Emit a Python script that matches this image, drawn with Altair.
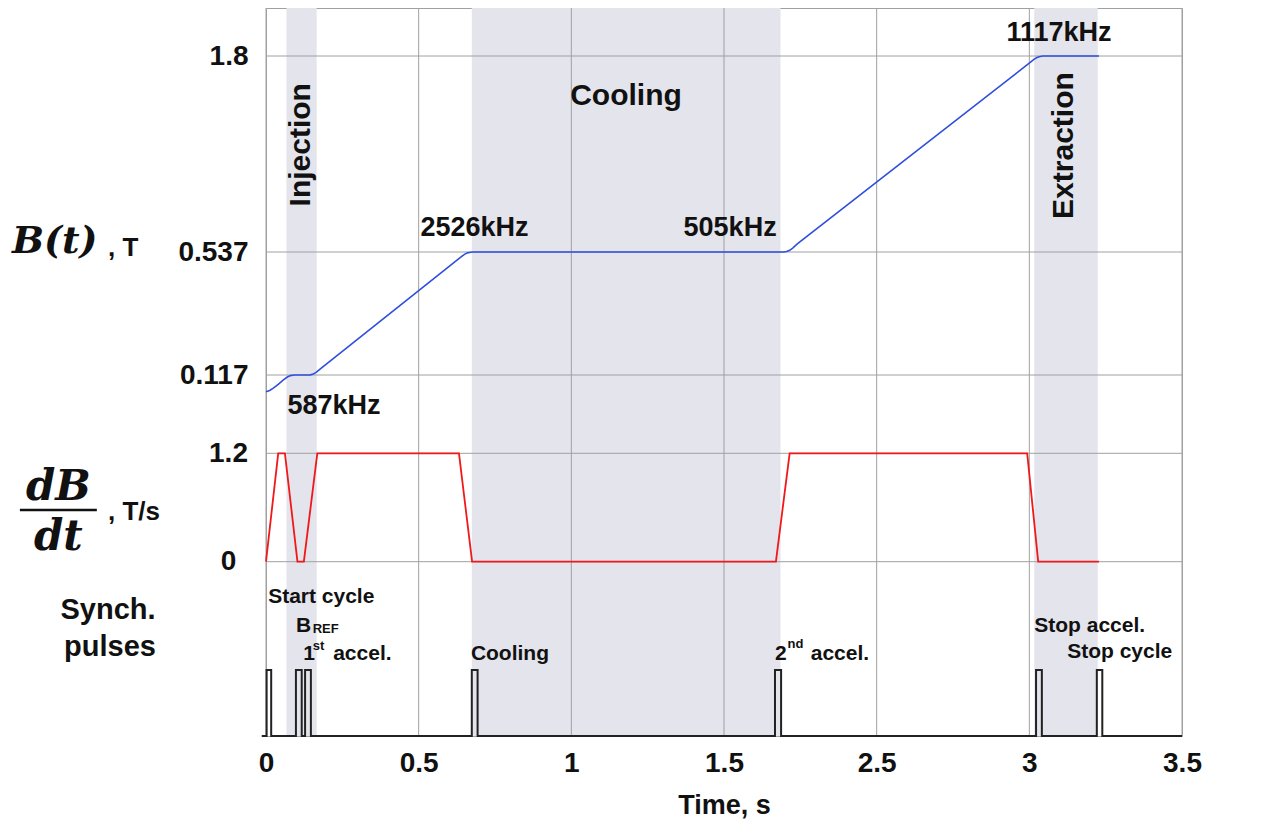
import altair as alt
import pandas as pd

FONT = "Liberation Sans"
SERIF = "DejaVu Serif"
TXT = "#111111"
GRID = "#a0a0a0"
BAND = "#e4e4ec"
BLUE = "#2f4fdc"
RED = "#f01818"
PULSE = "#222222"

# ---------------- axes ----------------
X_TICKS = [0, 0.5, 1, 1.5, 2, 2.5, 3]
X_TICK_LABELS = ["0", "0.5", "1", "1.5", "2.5", "3", "3.5"]
B_TICKS = [0.117, 0.537, 1.8]
D_TICKS = [0, 1.2]

# ---------------- B(t), T ----------------
B_T = [0.000, 0.012, 0.024, 0.040, 0.057, 0.070, 0.080, 0.092, 0.135, 0.145, 0.155,
       0.165, 0.180, 0.640, 0.650, 0.660, 0.670, 0.680, 1.695, 1.705, 1.715, 1.725,
       1.740, 2.505, 2.515, 2.525, 2.535, 2.545, 2.728]
B_VAL = [0.060, 0.064, 0.072, 0.085, 0.100, 0.110, 0.115, 0.117, 0.117, 0.1175, 0.120,
         0.127, 0.140, 0.521, 0.529, 0.534, 0.536, 0.537, 0.537, 0.540, 0.548, 0.562,
         0.589, 1.762, 1.778, 1.790, 1.797, 1.800, 1.800]

# ---------------- dB/dt, T/s ----------------
DBDT_T = [0.000, 0.040, 0.062, 0.103, 0.124, 0.168, 0.632, 0.675, 1.670, 1.715, 2.493, 2.529, 2.728]
DBDT_VAL = [0, 1.2, 1.2, 0, 0, 1.2, 1.2, 0, 0, 1.2, 1.2, 0, 0]

# ---------------- synch pulses ----------------
PULSE_START = [0.002, 0.098, 0.128, 0.674, 1.667, 2.522, 2.721]
PULSE_END = [0.017, 0.117, 0.147, 0.693, 1.687, 2.541, 2.739]
PULSE_LINE_START = -0.014
PULSE_LINE_END = 3.0

# ---------------- phases ----------------
PHASE_NAMES = ["Injection", "Cooling", "Extraction"]
PHASE_START = [0.067, 0.674, 2.516]
PHASE_END = [0.166, 1.685, 2.724]
PHASE_LABEL_T = [0.113, 1.179, 2.614]
PHASE_LABEL_B = [1.228, 1.545, 1.223]

# ---------------- annotations ----------------
FREQ_LABELS = ["587kHz", "2526kHz", "505kHz", "1117kHz"]
FREQ_T = [0.223, 0.683, 1.520, 2.597]
FREQ_B = [0.012, 0.690, 0.690, 1.946]

SYNC_LABELS = ["Start cycle", "B", "1", "accel.", "Cooling", "2", "accel.", "Stop accel.", "Stop cycle"]
SYNC_T = [0.007, 0.098, 0.122, 0.220, 0.671, 1.667, 1.784, 2.516, 2.624]
SYNC_P = [2.011, 1.580, 1.152, 1.152, 1.152, 1.152, 1.152, 1.580, 1.177]

SYNC_SMALL = ["REF", "st", "nd"]
SYNC_SMALL_T = [0.153, 0.153, 1.708]
SYNC_SMALL_P = [1.561, 1.310, 1.340]

LEFT_B_LABELS = ["B(t)", ", T"]
LEFT_B_T = [-0.832, -0.5175]
LEFT_B_V = [0.601, 0.563]

LEFT_D_FRAC = ["dB", "dt"]
LEFT_D_FRAC_T = [-0.68, -0.68]
LEFT_D_FRAC_V = [0.827, 0.270]
LEFT_D_UNIT = [", T/s"]
LEFT_D_UNIT_T = [-0.5175]
LEFT_D_UNIT_V = [0.550]
FRAC_BAR_T1 = [-0.806]
FRAC_BAR_T2 = [-0.554]
FRAC_BAR_V = [0.572]

LEFT_P_LABELS = ["Synch.", "pulses"]
LEFT_P_T = [-0.5175, -0.511]
LEFT_P_V = [1.909, 1.348]

# ---------------- scales ----------------
XS = alt.Scale(domain=[0, 3], nice=False, zero=False)
BS = alt.Scale(domain=B_TICKS, range=[367, 244, 48], nice=False, zero=False)
DS = alt.Scale(domain=D_TICKS, range=[553.7, 445.3], nice=False, zero=False)
PS = alt.Scale(domain=[0, 1], range=[728, 662], nice=False, zero=False)

label_expr = "[" + ",".join(f"'{s}'" for s in X_TICK_LABELS) + "][round(datum.value * 2)]"

x_axis = alt.Axis(values=X_TICKS, labelExpr=label_expr, grid=False, ticks=False, domain=False,
                  labelFlush=False, labelOverlap=False, labelFont=FONT, labelFontSize=28,
                  labelFontWeight="bold", labelColor=TXT, labelPadding=13,
                  title="Time, s", titleFont=FONT, titleFontSize=27, titleFontWeight="bold",
                  titleColor=TXT, titlePadding=15)
b_axis = alt.Axis(orient="left", values=B_TICKS, labelExpr="format(datum.value, '.3~g')",
                  grid=False, ticks=False, domain=False,
                  labelOverlap=False, labelFont=FONT, labelFontSize=28, labelFontWeight="bold",
                  labelColor=TXT, labelPadding=18, title=None)
d_axis = alt.Axis(orient="left", values=D_TICKS, labelExpr="format(datum.value, '.3~g')",
                  grid=False, ticks=False, domain=False,
                  labelOverlap=False, labelFont=FONT, labelFontSize=28, labelFontWeight="bold",
                  labelColor=TXT, labelPadding=38, labelAlign="center", title=None)


def xq(field="t"):
    return alt.X(f"{field}:Q", scale=XS, axis=x_axis)


def yq(scale, field="v"):
    return alt.Y(f"{field}:Q", scale=scale, axis=None)


# ---------------- tables ----------------
df_bands = pd.DataFrame({"phase": PHASE_NAMES, "start": PHASE_START, "end": PHASE_END})
df_xt = pd.DataFrame({"t": X_TICKS})
df_bt = pd.DataFrame({"v": B_TICKS})
df_dt = pd.DataFrame({"v": D_TICKS})
df_b = pd.DataFrame({"t": B_T, "v": B_VAL, "i": range(len(B_T))})
df_d = pd.DataFrame({"t": DBDT_T, "v": DBDT_VAL, "i": range(len(DBDT_T))})

p_t, p_v = [PULSE_LINE_START], [0]
for s, e in zip(PULSE_START, PULSE_END):
    p_t += [s, s, e, e]
    p_v += [0, 1, 1, 0]
p_t.append(PULSE_LINE_END)
p_v.append(0)
df_p = pd.DataFrame({"t": p_t, "v": p_v, "i": range(len(p_t))})

# ---------------- layers ----------------
bands = alt.Chart(df_bands).mark_rect(color=BAND).encode(x=xq("start"), x2="end")
vgrid = alt.Chart(df_xt).mark_rule(color=GRID, strokeWidth=1).encode(x=xq())
bgrid = alt.Chart(df_bt).mark_rule(color=GRID, strokeWidth=1).encode(
    y=alt.Y("v:Q", scale=BS, axis=b_axis))
dgrid = alt.Chart(df_dt).mark_rule(color=GRID, strokeWidth=1).encode(
    y=alt.Y("v:Q", scale=DS, axis=d_axis))

bline = alt.Chart(df_b).mark_line(color=BLUE, strokeWidth=1.6).encode(
    x=xq(), y=yq(BS), order=alt.Order("i:Q"))
dline = alt.Chart(df_d).mark_line(color=RED, strokeWidth=1.8).encode(
    x=xq(), y=yq(DS), order=alt.Order("i:Q"))
pline = alt.Chart(df_p).mark_line(color=PULSE, strokeWidth=2).encode(
    x=xq(), y=yq(PS), order=alt.Order("i:Q"))


def text_layer(labels, ts, vs, scale, **kw):
    df = pd.DataFrame({"label": labels, "t": ts, "v": vs})
    base = dict(font=FONT, color=TXT)
    base.update(kw)
    return alt.Chart(df).mark_text(**base).encode(x=xq(), y=yq(scale), text="label:N")


freq = text_layer(FREQ_LABELS, FREQ_T, FREQ_B, BS, fontSize=27, fontWeight="bold",
                  align="center", baseline="middle")
ph_h = text_layer([PHASE_NAMES[1]], [PHASE_LABEL_T[1]], [PHASE_LABEL_B[1]], BS, fontSize=30,
                  fontWeight="bold", align="center", baseline="middle")
ph_v = text_layer([PHASE_NAMES[0], PHASE_NAMES[2]], [PHASE_LABEL_T[0], PHASE_LABEL_T[2]],
                  [PHASE_LABEL_B[0], PHASE_LABEL_B[2]], BS, fontSize=30, fontWeight="bold",
                  align="center", baseline="middle", angle=270)
sync = text_layer(SYNC_LABELS, SYNC_T, SYNC_P, PS, fontSize=21, fontWeight="bold",
                  align="left", baseline="alphabetic")
sync_small = text_layer(SYNC_SMALL, SYNC_SMALL_T, SYNC_SMALL_P, PS, fontSize=13,
                        fontWeight="bold", align="left", baseline="alphabetic")

left_bt = text_layer(LEFT_B_LABELS[:1], LEFT_B_T[:1], LEFT_B_V[:1], BS, font=SERIF, fontSize=38,
                     fontWeight="bold", fontStyle="italic", align="left", baseline="middle")
left_bu = text_layer(LEFT_B_LABELS[1:], LEFT_B_T[1:], LEFT_B_V[1:], BS, fontSize=26,
                     fontWeight="bold", align="left", baseline="middle")
left_df = text_layer(LEFT_D_FRAC, LEFT_D_FRAC_T, LEFT_D_FRAC_V, DS, font=SERIF, fontSize=42,
                     fontWeight="bold", fontStyle="italic", align="center", baseline="middle")
left_du = text_layer(LEFT_D_UNIT, LEFT_D_UNIT_T, LEFT_D_UNIT_V, DS, fontSize=26,
                     fontWeight="bold", align="left", baseline="middle")
frac_bar = alt.Chart(pd.DataFrame({"t1": FRAC_BAR_T1, "t2": FRAC_BAR_T2, "v": FRAC_BAR_V})).mark_rule(
    color=TXT, strokeWidth=2.5).encode(x=xq("t1"), x2="t2", y=yq(DS))
left_p = text_layer(LEFT_P_LABELS, LEFT_P_T, LEFT_P_V, PS, fontSize=29, fontWeight="bold",
                    align="center", baseline="middle")

chart = alt.layer(
    bands, vgrid, bgrid, dgrid, bline, dline, pline,
    freq, ph_h, ph_v, sync, sync_small,
    left_bt, left_bu, left_df, left_du, frac_bar, left_p,
).resolve_scale(y="independent").properties(
    width=916, height=728,
    autosize=alt.AutoSizeParams(type="none"),
    padding={"left": 258, "top": 0, "right": 60, "bottom": 90},
    background="white",
).configure_view(stroke=GRID, strokeWidth=1)

chart.save("out.html", embed_options={"renderer": "svg", "actions": False})
